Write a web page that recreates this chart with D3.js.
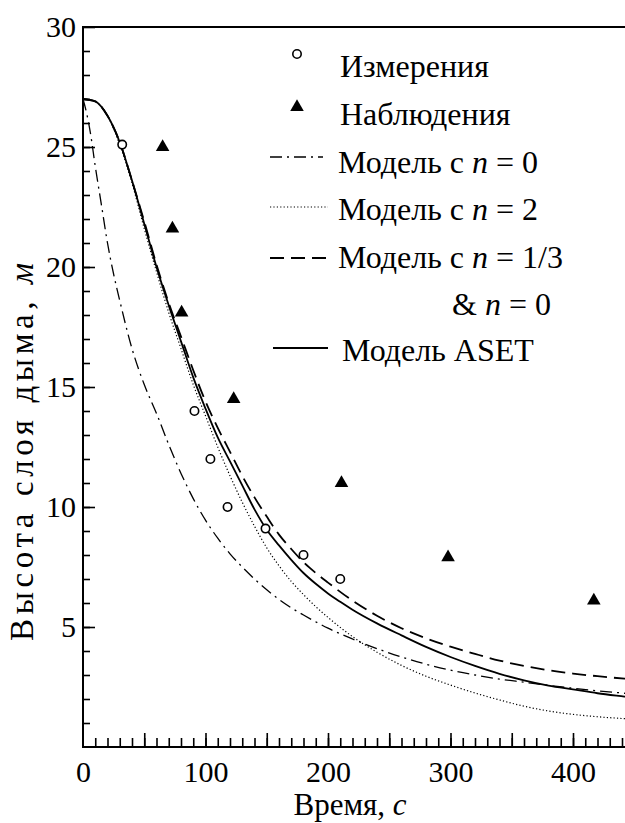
<!DOCTYPE html>
<html><head><meta charset="utf-8">
<script src="https://cdn.jsdelivr.net/npm/d3@7"></script>
<style>
body{margin:0;background:#fff} svg{display:block}
svg text{font-family:"Liberation Serif","DejaVu Serif",serif !important; fill:#000}
</style>
</head><body>
<svg id="c" width="625" height="823"></svg>
<script>
// ---------- data ----------
const xTicks = [0, 100, 200, 300, 400];
const yTicks = [5, 10, 15, 20, 25, 30];

const measT = [32, 91, 104, 118, 149, 180, 210];
const measH = [25.1, 14.0, 12.0, 10.0, 9.1, 8.0, 7.0];

const obsT = [65, 73, 80.5, 123, 211, 298, 417];
const obsH = [25.0, 21.6, 18.1, 14.5, 11.0, 7.9, 6.1];

const n0T = [0, 3, 6, 10, 15, 20, 25, 30, 40, 50, 60, 70, 80, 90, 100, 110, 120, 130, 140, 150, 160, 170, 180, 200, 220, 240, 260, 280, 300, 320, 340, 360, 380, 400, 420, 442, 450];
const n0H = [27.0, 26.4, 25.6, 24.2, 22.6, 21.0, 19.7, 18.6, 16.6, 15.1, 13.9, 12.6, 11.4, 10.35, 9.45, 8.7, 8.05, 7.5, 7.0, 6.55, 6.15, 5.8, 5.5, 4.95, 4.5, 4.1, 3.75, 3.45, 3.2, 3.0, 2.83, 2.7, 2.57, 2.45, 2.34, 2.24, 2.2];

const n2T = [0, 10, 20, 30, 40, 50, 60, 70, 80, 90, 100, 110, 120, 130, 140, 150, 160, 170, 180, 190, 200, 220, 240, 260, 280, 300, 320, 340, 360, 380, 400, 420, 442, 450];
const n2H = [27.0, 26.9, 26.3, 25.1, 23.5, 21.6, 19.8, 18.1, 16.6, 15.1, 13.8, 12.5, 11.3, 10.2, 9.2, 8.3, 7.55, 6.9, 6.35, 5.85, 5.4, 4.6, 3.95, 3.4, 2.95, 2.58, 2.25, 1.96, 1.7, 1.5, 1.36, 1.26, 1.18, 1.15];

const n13T = [0, 10, 20, 30, 40, 50, 60, 70, 80, 90, 100, 110, 120, 130, 140, 150, 160, 170, 180, 190, 200, 220, 240, 260, 280, 300, 320, 340, 360, 380, 400, 420, 442, 450];
const n13H = [27.0, 26.9, 26.3, 25.2, 23.6, 21.9, 20.1, 18.5, 17.1, 15.7, 14.4, 13.3, 12.3, 11.3, 10.4, 9.6, 8.85, 8.25, 7.7, 7.25, 6.85, 6.1, 5.47, 4.95, 4.53, 4.18, 3.88, 3.6, 3.38, 3.2, 3.06, 2.95, 2.85, 2.82];

const asetT = [0, 10, 20, 30, 40, 50, 60, 70, 80, 90, 100, 110, 120, 130, 140, 150, 160, 170, 180, 190, 200, 210, 220, 240, 260, 280, 300, 320, 340, 360, 380, 400, 420, 442, 450];
const asetH = [27.0, 26.9, 26.3, 25.2, 23.6, 21.8, 20.0, 18.4, 16.9, 15.4, 14.1, 12.9, 11.9, 10.9, 9.9, 9.05, 8.4, 7.8, 7.25, 6.8, 6.4, 6.05, 5.72, 5.15, 4.65, 4.17, 3.75, 3.38, 3.05, 2.78, 2.56, 2.4, 2.24, 2.1, 2.05];

const legendLabels = [
  [["Измерения", false]],
  [["Наблюдения", false]],
  [["Модель с ", false], ["n", true], [" = 0", false]],
  [["Модель с ", false], ["n", true], [" = 2", false]],
  [["Модель с ", false], ["n", true], [" = 1/3", false]],
  [["& ", false], ["n", true], [" = 0", false]],
  [["Модель ASET", false]]
];
const xTitle = [["Время, ", false], ["с", true]];
const yTitle = [["Высота слоя дыма, ", false], ["м", true]];

// ---------- layout ----------
const svg = d3.select("#c");
const L = 83, T = 27, B = 747;
const x = d3.scaleLinear().domain([0, 450]).range([L, L + 1.225 * 450]);
const y = d3.scaleLinear().domain([0, 30]).range([B, T]);

function addRich(sel, parts) {
  parts.forEach(([t, it]) => sel.append("tspan").text(t).attr("font-style", it ? "italic" : "normal"));
}
const TICKW = 1.6;

// minor ticks
svg.append("g").attr("transform", `translate(${L},0)`)
  .call(d3.axisLeft(y).tickValues(d3.range(1, 30)).tickSizeInner(-7).tickSizeOuter(0).tickFormat(""))
  .call(g => g.select(".domain").remove())
  .call(g => g.selectAll("line").attr("stroke-width", TICKW));
svg.append("g").attr("transform", `translate(0,${B})`)
  .call(d3.axisBottom(x).tickValues(d3.range(10, 450, 10)).tickSizeInner(-9).tickSizeOuter(0).tickFormat(""))
  .call(g => g.select(".domain").remove())
  .call(g => g.selectAll("line").attr("stroke-width", TICKW));
svg.append("g").attr("transform", `translate(0,${B})`)
  .call(d3.axisBottom(x).tickValues(d3.range(50, 450, 50)).tickSizeInner(-14).tickSizeOuter(0).tickFormat(""))
  .call(g => g.select(".domain").remove())
  .call(g => g.selectAll("line").attr("stroke-width", TICKW));

// major ticks + labels
svg.append("g").attr("transform", `translate(${L},0)`)
  .call(d3.axisLeft(y).tickValues(yTicks).tickSizeInner(-12).tickSizeOuter(0).tickPadding(7))
  .call(g => g.select(".domain").remove())
  .call(g => g.selectAll("line").attr("stroke-width", TICKW))
  .call(g => g.selectAll("text").attr("font-size", 30));
svg.append("g").attr("transform", `translate(0,${B})`)
  .call(d3.axisBottom(x).tickValues(xTicks).tickSize(0).tickPadding(14))
  .call(g => g.select(".domain").remove())
  .call(g => g.selectAll("text").attr("font-size", 30));

// frame
svg.append("path").attr("d", `M${L},${T}H${x(450)}M${L},${T - 1}V${B}H${x(450)}`)
  .attr("fill", "none").attr("stroke", "#000").attr("stroke-width", 2);

// titles
const xt = svg.append("text").attr("x", 350).attr("y", 815).attr("text-anchor", "middle").attr("font-size", 31);
addRich(xt, xTitle);
const yt = svg.append("text").attr("transform", "translate(33,452) rotate(-90)").attr("text-anchor", "middle")
  .attr("font-size", 33).attr("textLength", 378).attr("lengthAdjust", "spacing");
addRich(yt, yTitle);

// curves
svg.append("clipPath").attr("id", "clip").append("rect").attr("x", L).attr("y", T).attr("width", 700).attr("height", B - T);
const line = d3.line().x(d => x(d[0])).y(d => y(d[1])).curve(d3.curveMonotoneX);
const series = [
  { t: n0T, h: n0H, dash: "12,5,2,5", w: 1.3 },
  { t: n2T, h: n2H, dash: "1.2,2.2", w: 1.2 },
  { t: n13T, h: n13H, dash: "14,7", w: 1.8 },
  { t: asetT, h: asetH, dash: null, w: 1.8 }
];
const cg = svg.append("g").attr("clip-path", "url(#clip)");
series.forEach(s => {
  cg.append("path").datum(d3.zip(s.t, s.h)).attr("d", line)
    .attr("fill", "none").attr("stroke", "#000").attr("stroke-width", s.w)
    .attr("stroke-dasharray", s.dash);
});

// markers
cg.selectAll("circle.m").data(d3.zip(measT, measH)).join("circle")
  .attr("cx", d => x(d[0])).attr("cy", d => y(d[1])).attr("r", 4.2)
  .attr("fill", "#fff").attr("stroke", "#000").attr("stroke-width", 1.6);
const tri = d3.symbol().type(d3.symbolTriangle).size(80);
cg.selectAll("path.o").data(d3.zip(obsT, obsH)).join("path")
  .attr("transform", d => `translate(${x(d[0])},${y(d[1])})`).attr("d", tri).attr("fill", "#000");

// legend
const lg = svg.append("g");
lg.append("circle").attr("cx", 297).attr("cy", 54).attr("r", 4.2).attr("fill", "#fff").attr("stroke", "#000").attr("stroke-width", 1.6);
lg.append("path").attr("transform", "translate(297,107)").attr("d", tri).attr("fill", "#000");
const legLines = [
  { y: 157, x0: 270, x1: 323, s: series[0] },
  { y: 207, x0: 270, x1: 328, s: series[1] },
  { y: 258, x0: 270, x1: 330, s: series[2] },
  { y: 348, x0: 273, x1: 328, s: series[3] }
];
legLines.forEach(l => {
  lg.append("line").attr("x1", l.x0).attr("x2", l.x1).attr("y1", l.y).attr("y2", l.y)
    .attr("stroke", "#000").attr("stroke-width", l.s.w).attr("stroke-dasharray", l.s.dash);
});
const legPos = [[340, 77], [340, 125], [338, 173], [338, 220], [338, 268], [452, 315], [342, 361]];
legendLabels.forEach((parts, i) => {
  const t = lg.append("text").attr("x", legPos[i][0]).attr("y", legPos[i][1]).attr("font-size", 32);
  addRich(t, parts);
});
</script>
</body></html>
